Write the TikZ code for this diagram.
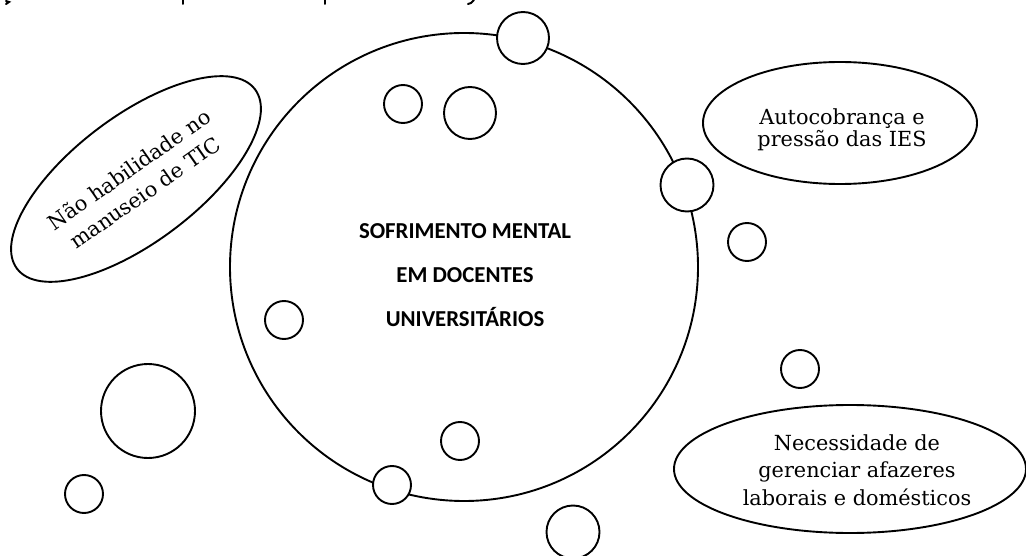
\documentclass[tikz,border=0pt]{standalone}
\usepackage{fontspec}
\setmainfont{DejaVu Serif}
\newfontfamily\carlito{Carlito}
\usetikzlibrary{shapes.geometric}
\begin{document}
\begin{tikzpicture}[x=1pt,y=-1pt,
  bub/.style={circle,draw,line width=1.9pt,fill=white,inner sep=0pt},
  cloud/.style={ellipse,draw,line width=1.9pt,fill=white,inner sep=0pt},
  lbl/.style={font=\fontsize{20.8}{27.5}\selectfont,align=center,inner sep=0pt},
  frag/.style={line width=2pt,line cap=round}]
\useasboundingbox (0,0) rectangle (1026,556);
% big circle
\node[bub,minimum size=468pt] (main) at (464,267) {};
% bubbles
\node[bub,minimum size=52pt] (c1) at (523,38) {};
\node[bub,minimum size=38pt] (c2) at (403,104) {};
\node[bub,minimum size=52pt] (c3) at (470,113) {};
\node[bub,minimum size=53pt] (c4) at (687,185) {};
\node[bub,minimum size=38pt] (c5) at (747,242) {};
\node[bub,minimum size=38pt] (c6) at (800,369) {};
\node[bub,minimum size=38pt] (c7) at (284,320) {};
\node[bub,minimum size=38pt] (c8) at (460,441) {};
\node[bub,minimum size=38pt] (c9) at (392,485) {};
\node[bub,minimum size=53pt] (c10) at (573,532) {};
\node[bub,minimum size=94pt] (c11) at (148,411) {};
\node[bub,minimum size=38pt] (c12) at (84,494) {};
% ellipses
\node[cloud,rotate=37,minimum width=298pt,minimum height=126pt] (e1) at (136,179) {};
\node[lbl,rotate=35,font=\fontsize{20.8}{28}\selectfont] (t1) at (137,181) {Não habilidade no\\manuseio de TIC};
\node[cloud,minimum width=274pt,minimum height=122pt] (e2) at (840,123) {};
\node[lbl,font=\fontsize{20.8}{22}\selectfont] (t2) at (842,130) {Autocobrança e\\pressão das IES};
\node[cloud,minimum width=352pt,minimum height=128pt] (e3) at (850,469) {};
\node[lbl] (t3) at (857,470) {Necessidade de\\gerenciar afazeres\\laborais e domésticos};
% central text
\node[font=\carlito\bfseries\fontsize{22.8}{44}\selectfont,align=center,inner sep=0pt] (t0) at (465,275) {SOFRIMENTO MENTAL\\EM DOCENTES\\UNIVERSITÁRIOS};
% cut-off text fragments at the top edge
\draw[frag] (183,0) -- (183,4);
\draw[frag] (325,0) -- (325,4);
\draw[frag] (474,0) -- (471,3) -- (468,4);
\draw[frag] (6,1) -- (9,2) -- (6,4);
\end{tikzpicture}
\end{document}
